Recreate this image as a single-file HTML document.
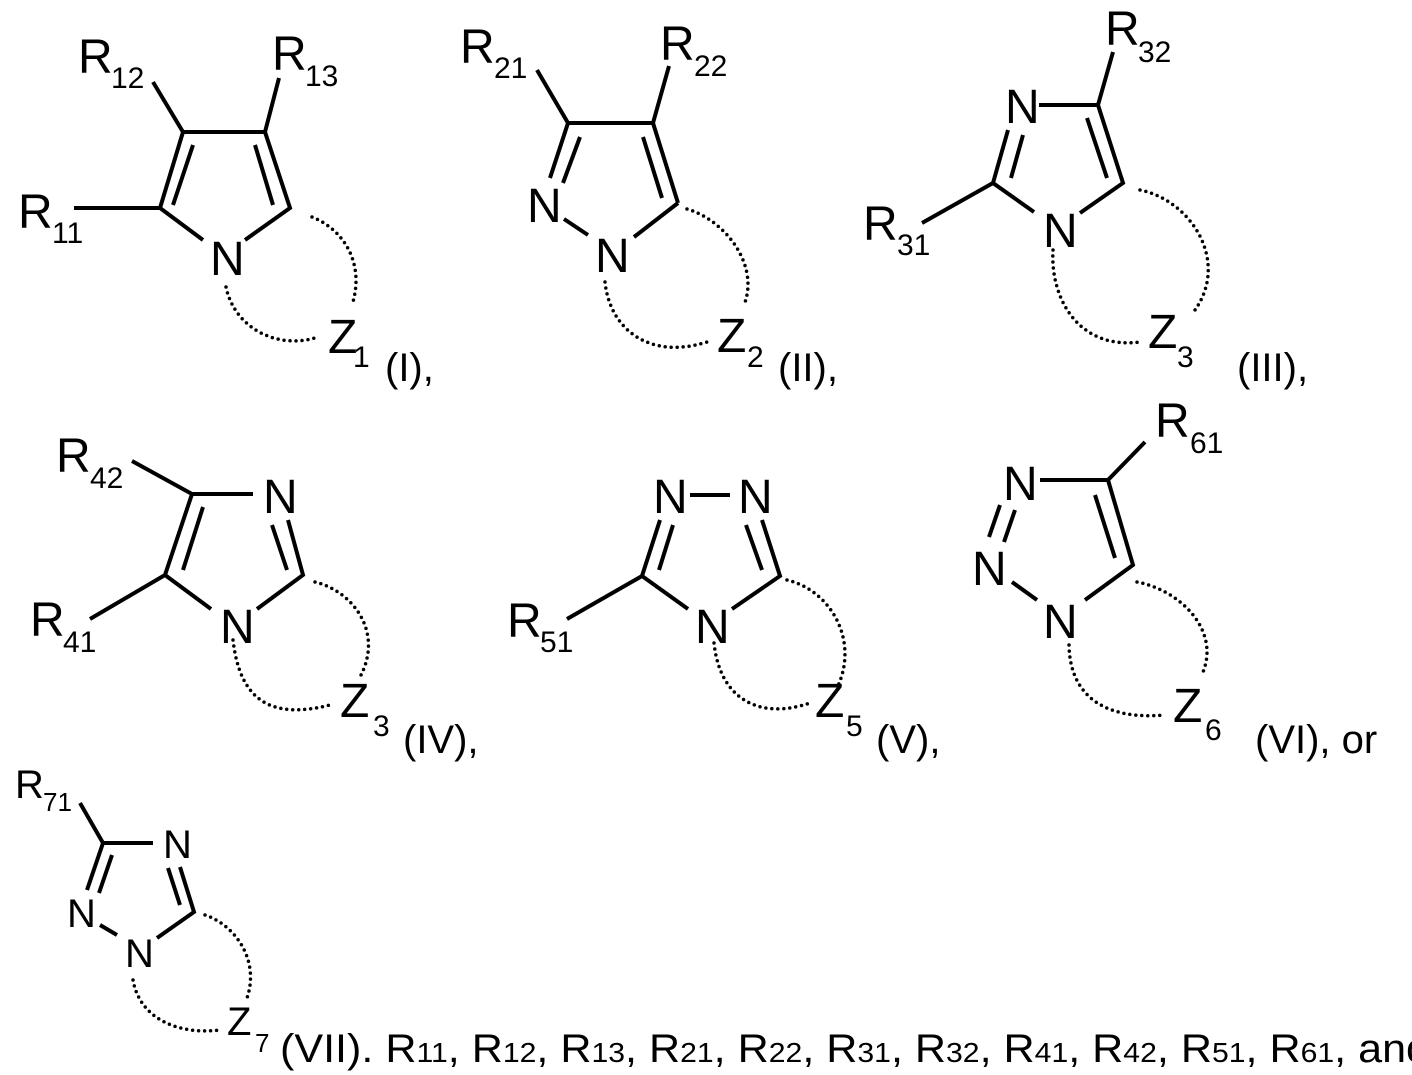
<!DOCTYPE html>
<html><head><meta charset="utf-8"><style>
html,body{margin:0;padding:0;background:#fff;width:1412px;height:1075px;overflow:hidden}
svg{display:block}
text{font-family:"Liberation Sans",Arial,sans-serif;fill:#000}
.b{font-size:48px}.s{font-size:30px}
.m{font-size:40px}.ms{font-size:26px}
.p{font-size:40px}
</style></head><body>
<svg width="1412" height="1075" viewBox="0 0 1412 1075" xmlns="http://www.w3.org/2000/svg">
<g stroke="#000" stroke-width="4" fill="none" stroke-linecap="butt">
<!-- I -->
<path d="M153,82L183,132L265,132L279,78M183,132L160,208L203,240M265,132L290,208L245,240M74,208L160,208M193,145L173,205M255,145L273,205"/>
<!-- II -->
<path d="M537,70L568,123L653,123L669,66M568,123L550,178M580,137L563,183M653,123L678,203M643,137L662,198M564,219L588,235M634,237L678,203"/>
<!-- III -->
<path d="M1113,52L1098,105M1039,105L1098,105L1123,183L1080,213M1087,118L1107,178M1008,130L993,183L1034,212M1023,135L1011,178M922,223L993,183"/>
<!-- IV -->
<path d="M132,461L192,494L253,494M192,494L165,575L211,609M203,507L183,570M90,619L165,575M288,520L303,575L257,609M272,525L287,570"/>
<!-- V -->
<path d="M690,495L730,495M660,520L642,576L688,609M673,525L659,570M762,520L780,576L732,609M746,525L762,570M567,619L642,576"/>
<!-- VI -->
<path d="M1145,442L1108,480L1040,480M1108,480L1133,565L1085,600M1095,495L1115,558M1000,505L989,537M1015,510L1004,542M1012,582L1037,600"/>
<!-- VII -->
<path d="M80,803L103,843L153,843M103,843L87,890M112,855L99,893M180,867L194,912L157,938M168,868L180,905M100,925L117,935"/>
</g>
<g stroke="#000" stroke-width="3.5" fill="none" stroke-linecap="round" stroke-dasharray="0 6">
<path d="M312,217C345,230 365,265 352,305"/><path d="M226,287C235,330 280,350 318,337"/>
<path d="M687,209C725,220 760,265 744,305"/><path d="M605,282C610,330 650,360 707,342"/>
<path d="M1140,190C1190,200 1230,260 1195,310"/><path d="M1053,250C1050,300 1080,350 1140,342"/>
<path d="M315,582C350,590 385,630 360,677"/><path d="M233,640C240,700 270,720 330,705"/>
<path d="M787,580C830,590 860,640 837,688"/><path d="M714,643C720,700 760,720 810,703"/>
<path d="M1137,582C1180,590 1220,630 1203,672"/><path d="M1069,645C1070,700 1110,720 1165,715"/>
<path d="M205,915C235,925 260,960 247,998"/><path d="M133,980C140,1020 180,1035 220,1030"/>
</g>
<!-- I -->
<text class="b" x="78" y="73">R</text><text class="s" x="111" y="88">12</text>
<text class="b" x="272" y="70">R</text><text class="s" x="305" y="86">13</text>
<text class="b" x="18" y="228">R</text><text class="s" x="52" y="243">11</text>
<text class="b" x="210" y="275">N</text>
<text class="b" x="328" y="353">Z</text><text class="s" x="353" y="367">1</text>
<text class="p" x="385" y="381">(I),</text>
<!-- II -->
<text class="b" x="460" y="63">R</text><text class="s" x="494" y="78">21</text>
<text class="b" x="660" y="60">R</text><text class="s" x="694" y="76">22</text>
<text class="b" x="527" y="222">N</text>
<text class="b" x="595" y="272">N</text>
<text class="b" x="717" y="352">Z</text><text class="s" x="747" y="367">2</text>
<text class="p" x="778" y="381">(II),</text>
<!-- III -->
<text class="b" x="1105" y="45">R</text><text class="s" x="1138" y="62">32</text>
<text class="b" x="1005" y="123">N</text>
<text class="b" x="863" y="240">R</text><text class="s" x="897" y="255">31</text>
<text class="b" x="1043" y="247">N</text>
<text class="b" x="1148" y="348">Z</text><text class="s" x="1177" y="367">3</text>
<text class="p" x="1237" y="381">(III),</text>
<!-- IV -->
<text class="b" x="56" y="472">R</text><text class="s" x="90" y="488">42</text>
<text class="b" x="263" y="513">N</text>
<text class="b" x="30" y="636">R</text><text class="s" x="63" y="652">41</text>
<text class="b" x="220" y="643">N</text>
<text class="b" x="340" y="717">Z</text><text class="s" x="373" y="736">3</text>
<text class="p" x="403" y="753">(IV),</text>
<!-- V -->
<text class="b" x="653" y="513">N</text><text class="b" x="738" y="513">N</text>
<text class="b" x="507" y="637">R</text><text class="s" x="540" y="652">51</text>
<text class="b" x="695" y="643">N</text>
<text class="b" x="815" y="717">Z</text><text class="s" x="846" y="736">5</text>
<text class="p" x="876" y="753">(V),</text>
<!-- VI -->
<text class="b" x="1155" y="437">R</text><text class="s" x="1190" y="453">61</text>
<text class="b" x="1003" y="500">N</text>
<text class="b" x="972" y="585">N</text>
<text class="b" x="1043" y="638">N</text>
<text class="b" x="1173" y="722">Z</text><text class="s" x="1205" y="740">6</text>
<text class="p" x="1255" y="753">(VI), or</text>
<!-- VII -->
<text class="m" x="15" y="798">R</text><text class="ms" x="43" y="811">71</text>
<text class="m" x="163" y="858">N</text>
<text class="m" x="67" y="927">N</text>
<text class="m" x="125" y="967">N</text>
<text class="m" x="227" y="1035">Z</text><text class="ms" x="255" y="1052">7</text>
<text x="280" y="1062" style="font-size:40px" textLength="1150" lengthAdjust="spacingAndGlyphs">(VII). R<tspan font-size="28">11</tspan>, R<tspan font-size="28">12</tspan>, R<tspan font-size="28">13</tspan>, R<tspan font-size="28">21</tspan>, R<tspan font-size="28">22</tspan>, R<tspan font-size="28">31</tspan>, R<tspan font-size="28">32</tspan>, R<tspan font-size="28">41</tspan>, R<tspan font-size="28">42</tspan>, R<tspan font-size="28">51</tspan>, R<tspan font-size="28">61</tspan>, and</text>
</svg>
</body></html>
